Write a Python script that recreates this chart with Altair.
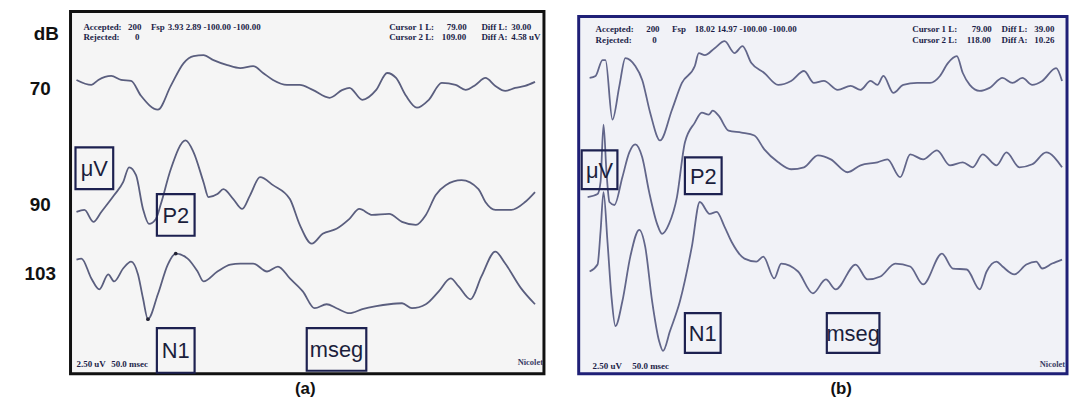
import altair as alt
import pandas as pd

# ---------------- data ----------------
# each trace: (time, amplitude relative to the trace baseline)
A70 = [(6,9),(21,4),(28,9),(41,13),(51,9),(61,8),(71,-7),(88,-21),(101,3),(114,26),(124,33),(134,34),(144,29),(158,24),(171,21),(184,23),(194,16),(204,9),(218,4),(231,4),(244,-1),(261,-9),(274,-1),(281,1),(294,-11),(308,-1),(319,16),(328,11),(338,-7),(349,-19),(361,-11),(374,6),(388,4),(398,-1),(408,4),(418,11),(428,3),(438,-2),(448,1),(458,3),(468,7)]
A90 = [(6,-7),(14,-5),(23,-17),(31,-7),(44,10),(53,23),(59,38),(66,30),(73,-4),(79,-19),(86,-14),(91,1),(101,36),(116,65),(124,53),(134,23),(139,8),(148,11),(154,16),(164,6),(173,-4),(181,10),(191,28),(204,20),(221,6),(231,-20),(243,-39),(254,-29),(268,-24),(281,-14),(291,-4),(304,-10),(321,-9),(334,-17),(348,-20),(358,-10),(368,10),(378,20),(394,25),(411,16),(418,3),(428,-5),(444,-5),(458,3),(468,13)]
A103 = [(6,14),(11,15),(21,-5),(29,-16),(38,-1),(44,-8),(53,5),(61,12),(68,-1),(73,-25),(78,-46),(88,-21),(98,9),(106,20),(118,15),(128,2),(134,-8),(148,2),(161,9),(171,10),(184,10),(198,2),(209,7),(221,-5),(234,-18),(246,-35),(258,-31),(268,-35),(281,-40),(294,-36),(308,-33),(321,-31),(334,-30),(344,-35),(358,-31),(371,-18),(383,-5),(391,-13),(403,-26),(414,-3),(428,22),(438,10),(454,-15),(468,-31)]

B1 = [(11,0),(17,2),(24,18),(27,18),(34,-42),(41,-8),(47,20),(57,12),(64,-2),(72,-35),(82,-63),(94,-32),(104,-5),(117,12),(121,25),(127,23),(137,30),(147,37),(157,25),(165,32),(174,15),(187,5),(201,-7),(214,-3),(227,7),(237,-5),(247,-3),(261,-12),(274,-8),(284,-12),(294,-3),(301,-7),(307,2),(317,-15),(327,-7),(341,-5),(354,-5),(364,2),(372,15),(381,22),(387,5),(394,-7),(404,-13),(414,-10),(427,0),(437,-5),(447,0),(457,-7),(467,-3),(481,10),(487,-3)]
B2 = [(9,2),(19,5),(22,17),(25,75),(28,27),(31,-3),(36,-6),(44,22),(51,47),(57,55),(64,42),(71,7),(79,-25),(84,-35),(91,-25),(99,2),(107,57),(117,77),(124,87),(131,85),(135,89),(141,84),(151,69),(164,67),(177,64),(187,50),(201,37),(214,30),(227,32),(241,44),(254,40),(271,27),(284,34),(301,37),(311,40),(324,22),(334,45),(347,40),(361,49),(374,34),(387,37),(397,32),(407,45),(421,34),(431,47),(444,32),(457,35),(471,47),(487,32)]
B3 = [(11,-2),(19,5),(22,38),(25,78),(29,28),(33,-27),(37,-57),(44,-32),(52,13),(61,40),(67,23),(74,-32),(81,-72),(85,-82),(92,-62),(102,-32),(114,23),(122,68),(132,56),(139,58),(147,43),(154,28),(167,11),(179,8),(186,13),(197,-9),(204,6),(221,-2),(236,-24),(249,-10),(259,-20),(279,5),(291,-10),(304,-7),(319,6),(334,3),(347,-15),(366,16),(377,1),(391,0),(404,-20),(411,-2),(421,8),(427,3),(439,-5),(451,5),(461,8),(467,1),(477,6),(487,10)]

# trace baselines (vertical offsets) and stimulus levels
A_LEVELS = ["70", "90", "103"]
A_BASES = [287, 170, 101]
B_BASES = [298, 176, 105]

# annotation boxes: label, t1, t2, level1, level2
A_BOXES = [("μV", 5, 43, 186, 228), ("P2", 87, 125, 139, 181), ("N1", 87, 125, 1, 46), ("mseg", 238, 298, 3, 46)]
B_BOXES = [("μV", 3, 39, 186, 225), ("P2", 107, 144, 181, 218), ("N1", 107, 143, 21, 61), ("mseg", 250, 303, 21, 61)]

# instrument text: text, t, level
A_TEXT = [("Accepted:", 13, 349), ("200", 58, 349), ("Fsp", 81, 349), ("3.93 2.89 -100.00 -100.00", 98, 349),
          ("Rejected:", 13, 339), ("0", 65, 339),
          ("Cursor 1 L:", 321, 349), ("79.00", 379, 349), ("Diff L:", 414, 349), ("30.00", 444, 349),
          ("Cursor 2 L:", 321, 339), ("109.00", 374, 339), ("Diff A:", 414, 339), ("4.58 uV", 444, 339),
          ("2.50 uV", 6, 10), ("50.0 msec", 41, 10)]
B_TEXT = [("Accepted:", 17, 347), ("200", 68, 347), ("Fsp", 94, 347), ("18.02 14.97 -100.00 -100.00", 117, 347),
          ("Rejected:", 17, 336), ("0", 74, 336),
          ("Cursor 1 L:", 336, 347), ("79.00", 396, 347), ("Diff L:", 426, 347), ("39.00", 459, 347),
          ("Cursor 2 L:", 336, 336), ("118.00", 391, 336), ("Diff A:", 426, 336), ("10.26", 459, 336),
          ("2.50 uV", 14, 8), ("50.0 msec", 54, 8)]
A_BRAND = ("Nicolet", 476, 12)
B_BRAND = ("Nicolet", 490, 10)
A_MARKS = [(78, -46), (106, 20)]  # N1 / P2 picks on the 103 dB trace

# ---------------- styling ----------------
W_A, W_B, H = 477, 492, 365
TRACE = "#5a5e7e"
BOX = "#1d2150"
SANS = "Liberation Sans, Arial"
SERIF = "Liberation Serif, Times New Roman"


def trace_df(traces, bases):
    rows = []
    for i, (pts, base) in enumerate(zip(traces, bases)):
        for t, v in pts:
            rows.append({"trace": i, "t": t, "level": base + v})
    return pd.DataFrame(rows)


def box_df(boxes):
    return pd.DataFrame([{"label": b[0], "t1": b[1], "t2": b[2], "l1": b[3], "l2": b[4],
                          "tc": (b[1] + b[2]) / 2, "lc": (b[3] + b[4]) / 2} for b in boxes])


def text_df(items):
    return pd.DataFrame([{"text": a, "t": b, "level": c} for a, b, c in items])


def panel(traces, bases, boxes, texts, brand, width, xaxis, yaxis, trace_color):
    xs = alt.Scale(domain=[0, width], nice=False, zero=False)
    ys = alt.Scale(domain=[0, H], nice=False, zero=False)
    lines = alt.Chart(trace_df(traces, bases)).mark_line(
        color=trace_color, strokeWidth=1.8, interpolate="monotone", clip=True
    ).encode(x=alt.X("t:Q", scale=xs, axis=xaxis), y=alt.Y("level:Q", scale=ys, axis=yaxis), detail="trace:N")
    bdf = box_df(boxes)
    rects = alt.Chart(bdf).mark_rect(filled=False, stroke=BOX, strokeWidth=2.2).encode(
        x="t1:Q", x2="t2", y="l1:Q", y2="l2")
    labels = alt.Chart(bdf).mark_text(font=SANS, fontSize=22, color="#1b1e3c", baseline="middle", dy=1).encode(
        x="tc:Q", y="lc:Q", text="label:N")
    info = alt.Chart(text_df(texts)).mark_text(
        font=SERIF, fontSize=9, fontWeight="bold", color="#1c1e48", align="left", baseline="middle", clip=True
    ).encode(x="t:Q", y="level:Q", text="text:N")
    brand_t = alt.Chart(text_df([brand])).mark_text(
        font=SERIF, fontSize=8.5, fontWeight="bold", color="#3a3d66", align="right", baseline="middle", clip=True
    ).encode(x="t:Q", y="level:Q", text="text:N")
    return [lines, rects, labels, info, brand_t]


def xaxis(title, tx):
    return alt.Axis(title=title, labels=False, ticks=False, domain=False, grid=False,
                    titleFont="Liberation Sans, Arial", titleFontSize=17, titleFontWeight="bold",
                    titleColor="#111111", titlePadding=7, titleX=tx, titleAlign="center")


label_expr = " : ".join(f"datum.value == {b} ? '{l}'" for b, l in zip(A_BASES, A_LEVELS)) + " : ''"
yaxis_a = alt.Axis(values=A_BASES, labelExpr=label_expr, ticks=False, domain=False, grid=False,
                   labelFont="Liberation Sans, Arial", labelFontSize=19, labelFontWeight="bold",
                   labelColor="#111111", labelPadding=31, labelAlign="center", labelBaseline="middle",
                   title="dB", titleAngle=0, titleX=-25, titleY=22, titleAlign="center",
                   titleBaseline="middle", titleFont="Liberation Sans, Arial", titleFontSize=19,
                   titleFontWeight="bold", titleColor="#111111")

layers_a = panel([A70, A90, A103], A_BASES, A_BOXES, A_TEXT, A_BRAND, W_A, xaxis("(a)", 236), yaxis_a, TRACE)
marks_a = alt.Chart(pd.DataFrame([{"t": t, "level": A_BASES[2] + v} for t, v in A_MARKS])).mark_point(
    filled=True, size=14, color="#222233", opacity=1).encode(x="t:Q", y="level:Q")
chart_a = alt.layer(*layers_a, marks_a).properties(
    width=W_A, height=H,
    view=alt.ViewBackground(fill="#f5f5f5", stroke="#111111", strokeWidth=3))

frame_b = alt.Chart(pd.DataFrame({"k": [0]})).mark_rect(
    fill="#f1f2f7", stroke="#1f2077", strokeWidth=3).encode(
    x=alt.value(0), x2=alt.value(W_B), y=alt.value(5), y2=alt.value(H))
layers_b = panel([B1, B2, B3], B_BASES, B_BOXES, B_TEXT, B_BRAND, W_B, xaxis("(b)", 264), None, "#62668a")
chart_b = alt.layer(frame_b, *layers_b).properties(
    width=W_B, height=H, view=alt.ViewBackground(stroke=None, fill=None))

chart = alt.hconcat(chart_a, chart_b, spacing=35, bounds="flush").properties(
    padding={"left": 14, "top": 0, "right": 0, "bottom": 0}, background="white")

chart.save("out.html", embed_options={"renderer": "svg", "actions": False})
